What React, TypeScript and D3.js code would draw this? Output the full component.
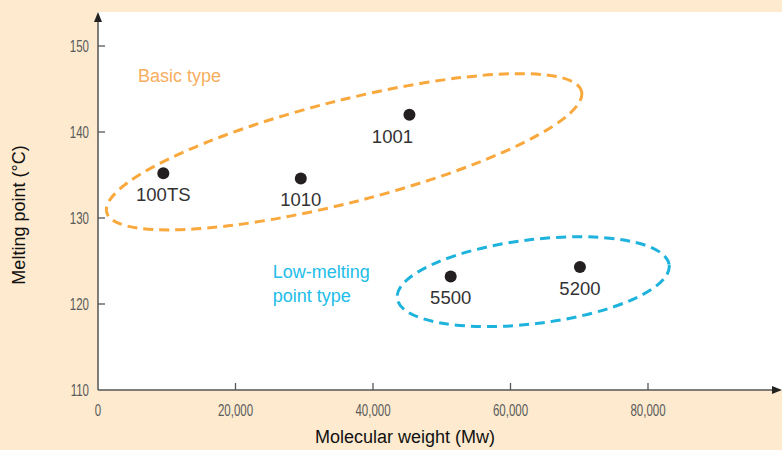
import { useMemo } from 'react';
import * as d3 from 'd3';

// grades and their measured values
const grades = ['100TS', '1010', '1001', '5500', '5200'];
const molecularWeight = [9500, 29500, 45300, 51300, 70100];
const meltingPoint = [135.2, 134.6, 142.0, 123.2, 124.3];

// grouping ellipses (center in data units) and their captions
const groupNames = ['Basic type', 'Low-melting point type'];
const groupCenterMw = [35800, 63300];
const groupCenterMp = [137.7, 122.6];
const groupLabelMw = [5800, 25400];
const groupLabelMp = [145.8, 123.0];

const xTicks = [0, 20000, 40000, 60000, 80000];
const yTicks = [110, 120, 130, 140, 150];

const W = 782;
const H = 450;
const BG = '#fdeacf';
const AXIS = '#555555';
const TICK_FONT = '"Liberation Sans", Arial, sans-serif';
const FONT = '"Liberation Sans", Arial, Helvetica, sans-serif';

const groupStyle = [
  { stroke: '#f8a83c', text: '#f7ae60', rx: 245, ry: 51, angle: -14.3 },
  { stroke: '#1db3dd', text: '#22bde8', rx: 137, ry: 42, angle: -7 },
];
const labelDx: Record<string, number> = { '1001': -17 };

// condensed look for the tick numbers (no narrow face installed)
function TickText({ x, y, anchor, children }: { x: number; y: number; anchor: string; children: string }) {
  return (
    <text
      transform={`translate(${x},${y}) scale(0.72,1)`}
      textAnchor={anchor}
      fill="#5a5a5a"
      fontFamily={TICK_FONT}
      fontSize={16}
    >
      {children}
    </text>
  );
}

export default function App() {
  const x = useMemo(() => d3.scaleLinear().domain([0, 80000]).range([98, 648]), []);
  const y = useMemo(() => d3.scaleLinear().domain([110, 150]).range([390, 46]), []);
  const fmt = d3.format(',');

  const x0 = x(0);
  const y0 = y(110);

  return (
    <svg width={W} height={H} style={{ position: 'absolute', left: 0, top: 0, display: 'block' }}>
      <rect width={W} height={H} fill={BG} />
      {/* white plot panel */}
      <rect x={x0} y={12} width={W - x0} height={y0 - 12} fill="#ffffff" />

      {/* axes */}
      <line x1={x0} x2={W - 6} y1={y0} y2={y0} stroke={AXIS} strokeWidth={1.5} />
      <line x1={x0} x2={x0} y1={y0} y2={20} stroke={AXIS} strokeWidth={1.5} />
      <path d={`M${x0 - 4},${22} L${x0},${12} L${x0 + 4},${22} Z`} fill="#222" />
      <path d={`M${W - 10},${y0 - 4} L${W},${y0} L${W - 10},${y0 + 4} Z`} fill="#222" />

      {yTicks.map((t) => (
        <g key={`y${t}`}>
          {t !== 110 && <line x1={x0} x2={x0 + 7} y1={y(t)} y2={y(t)} stroke={AXIS} strokeWidth={1.3} />}
          <TickText x={x0 - 9} y={y(t) + 6} anchor="end">
            {String(t)}
          </TickText>
        </g>
      ))}
      {xTicks.map((t) => (
        <g key={`x${t}`}>
          {t !== 0 && <line x1={x(t)} x2={x(t)} y1={y0} y2={y0 - 7} stroke={AXIS} strokeWidth={1.3} />}
          <TickText x={x(t)} y={416} anchor="middle">
            {fmt(t)}
          </TickText>
        </g>
      ))}

      {/* axis titles */}
      <text
        transform={`translate(25,215) rotate(-90)`}
        textAnchor="middle"
        fontFamily={FONT}
        fontSize={18}
        fill="#111"
      >
        Melting point (°C)
      </text>
      <text x={405} y={443} textAnchor="middle" fontFamily={FONT} fontSize={18} fill="#111">
        Molecular weight (Mw)
      </text>

      {/* group ellipses */}
      {groupNames.map((name, i) => {
        const s = groupStyle[i];
        const cx = x(groupCenterMw[i]);
        const cy = y(groupCenterMp[i]);
        return (
          <ellipse
            key={name}
            cx={cx}
            cy={cy}
            rx={s.rx}
            ry={s.ry}
            transform={`rotate(${s.angle},${cx},${cy})`}
            fill="none"
            stroke={s.stroke}
            strokeWidth={3}
            strokeDasharray="10,6"
          />
        );
      })}

      {/* group captions */}
      {groupNames.map((name, i) => {
        const words = i === 1 ? ['Low-melting', 'point type'] : [name];
        return (
          <text
            key={`cap${i}`}
            x={x(groupLabelMw[i])}
            y={y(groupLabelMp[i])}
            fill={groupStyle[i].text}
            fontFamily={FONT}
            fontSize={18}
          >
            {words.map((w, j) => (
              <tspan key={w} x={x(groupLabelMw[i])} dy={j === 0 ? 0 : 23.5}>
                {w}
              </tspan>
            ))}
          </text>
        );
      })}

      {/* points */}
      {grades.map((g, i) => {
        const px = x(molecularWeight[i]);
        const py = y(meltingPoint[i]);
        return (
          <g key={g}>
            <circle cx={px} cy={py} r={6} fill="#231f20" />
            <text
              x={px + (labelDx[g] ?? 0)}
              y={py + 28}
              textAnchor="middle"
              fontFamily={FONT}
              fontSize={18.5}
              fill="#333"
            >
              {g}
            </text>
          </g>
        );
      })}
    </svg>
  );
}
